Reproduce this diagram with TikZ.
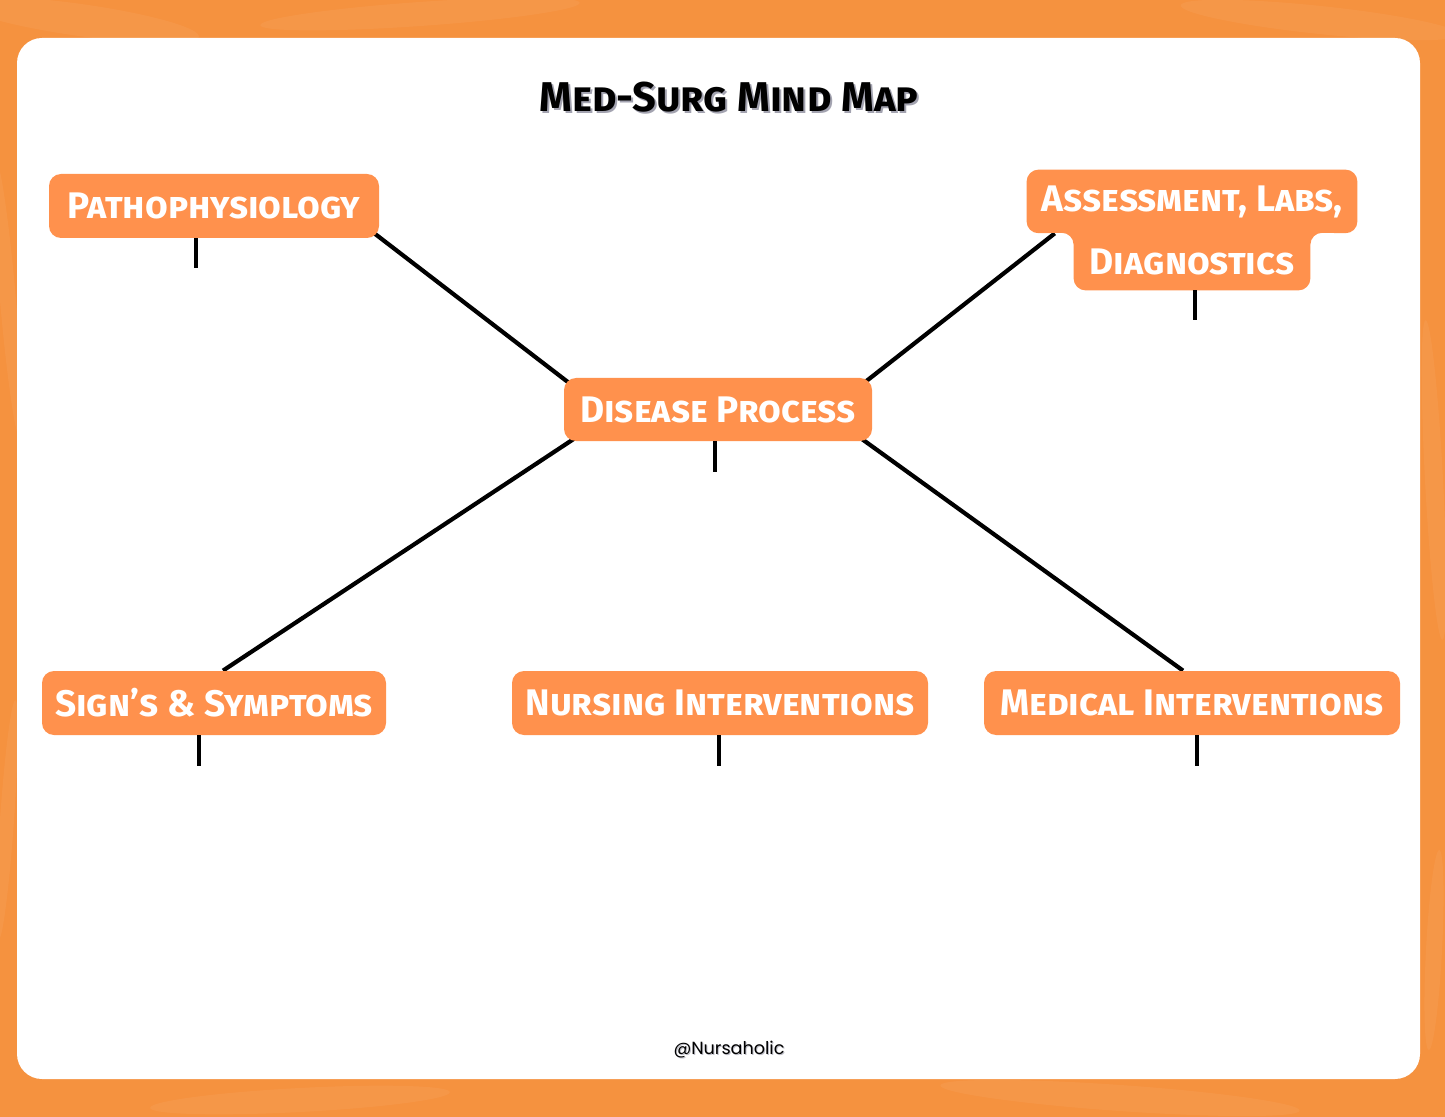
\documentclass[tikz,border=0pt]{standalone}
\usepackage{fontspec}
\setmainfont{Fira Sans}
\newfontfamily\popfont{Poppins}
\usetikzlibrary{calc}
\definecolor{bgor}{HTML}{F5923F}
\definecolor{bglight}{HTML}{F8AA6C}
\definecolor{boxor}{HTML}{FF914D}
\definecolor{shadowgray}{HTML}{A3A3B0}
\pgfdeclarelayer{back}
\pgfdeclarelayer{lines}
\pgfdeclarelayer{shapes}
\pgfsetlayers{back,lines,shapes,main}
\newcommand\boxfont{\fontsize{18.5}{21}\selectfont\bfseries\scshape}
\newcommand\titfont{\fontsize{20.8}{24}\selectfont\bfseries\scshape}
\tikzset{
  box/.style={fill=boxor, rounded corners=6pt, text=white, font=\boxfont, inner sep=0pt},
  boxtext/.style={text=white, font=\boxfont, inner sep=0pt},
  conn/.style={line width=2.1pt, black},
  stub/.style={line width=2.1pt, black},
  blob/.style={fill=bglight, opacity=0.22},
}
\begin{document}
\begin{tikzpicture}[x=0.5pt,y=-0.5pt]
\useasboundingbox (0,0) rectangle (1445,1117);
\begin{pgfonlayer}{back}
  \fill[bgor] (0,0) rectangle (1445,1117);
  \fill[blob, rotate around={-8:(80,20)}] (80,20) ellipse [x radius=120, y radius=16];
  \fill[blob, rotate around={4:(420,14)}] (420,14) ellipse [x radius=160, y radius=12];
  \fill[blob, rotate around={-6:(1320,20)}] (1320,20) ellipse [x radius=140, y radius=14];
  \fill[blob, rotate around={5:(8,300)}] (8,300) ellipse [x radius=8, y radius=140];
  \fill[blob, rotate around={-4:(7,820)}] (7,820) ellipse [x radius=7, y radius=120];
  \fill[blob, rotate around={3:(1434,480)}] (1434,480) ellipse [x radius=9, y radius=160];
  \fill[blob, rotate around={-3:(1434,950)}] (1434,950) ellipse [x radius=8, y radius=100];
  \fill[blob, rotate around={3:(300,1100)}] (300,1100) ellipse [x radius=150, y radius=12];
  \fill[blob, rotate around={-4:(1120,1098)}] (1120,1098) ellipse [x radius=180, y radius=13];
  \fill[white, rounded corners=12.5pt] (17,38) rectangle (1420,1079);
\end{pgfonlayer}

% title
\node[font=\titfont, text=shadowgray, inner sep=0pt] (titleshadow) at (731,99.5) {Med-Surg Mind Map};
\node[font=\titfont, text=black, inner sep=0pt] (title) at (729,97) {Med-Surg Mind Map};

% boxes
\node[box, minimum width=165pt, minimum height=32pt] (patho) at (214,206) {Pathophysiology};
\node[box, minimum width=154pt, minimum height=31.5pt] (dis) at (718,409.5) {Disease Process};
\node[box, minimum width=172pt, minimum height=32pt] (signs) at (214,703) {Sign's \& Symptoms};
\node[box, minimum width=208pt, minimum height=32pt] (nurs) at (720,703) {Nursing Interventions};
\node[box, minimum width=208pt, minimum height=32pt] (med) at (1192,703) {Medical Interventions};

\node[boxtext, minimum width=165pt, minimum height=31.5pt] (atop) at (1192,201.5) {\raisebox{-2pt}{Assessment, Labs,}};
\node[boxtext, minimum width=118pt, minimum height=28.5pt] (abot) at (1192,261.5) {Diagnostics};
\begin{pgfonlayer}{shapes}
  \fill[boxor, rounded corners=6pt] (atop.north) -- (atop.north east) -- (atop.south east)
    -- (abot.north east) -- (abot.south east) -- (abot.south west) -- (abot.north west)
    -- (atop.south west) -- (atop.north west) -- cycle;
\end{pgfonlayer}

% connectors
\begin{pgfonlayer}{lines}
  \draw[conn] ($(patho.south east)+(-5,-5)$) -- ($(dis.north west)+(5,5)$);
  \draw[conn] ($(dis.north east)+(-8,5)$) -- ($(atop.south west)!0.085!(atop.south east)$);
  \draw[conn] ($(dis.south west)+(11,-3)$) -- ($(signs.north)+(9,0)$);
  \draw[conn] ($(dis.south east)+(-10,-2)$) -- ($(med.north)+(-9,0)$);
\end{pgfonlayer}

% stubs
\draw[stub] ($(patho.south)+(-18,0)$) -- ++(0,30);
\draw[stub] ($(abot.south)+(3,0)$) -- ++(0,30);
\draw[stub] ($(dis.south)+(-3,0)$) -- ++(0,31);
\draw[stub] ($(signs.south)+(-15,0)$) -- ++(0,31);
\draw[stub] ($(nurs.south)+(-1,0)$) -- ++(0,31);
\draw[stub] ($(med.south)+(5,0)$) -- ++(0,31);

% footer
\node[font=\popfont\fontsize{8.8}{11}\selectfont, text=shadowgray!70, inner sep=0pt] (footshadow) at (730,1051) {@Nursaholic};
\node[font=\popfont\fontsize{8.8}{11}\selectfont, text=black, inner sep=0pt] (foot) at (729,1050) {@Nursaholic};
\end{tikzpicture}
\end{document}
